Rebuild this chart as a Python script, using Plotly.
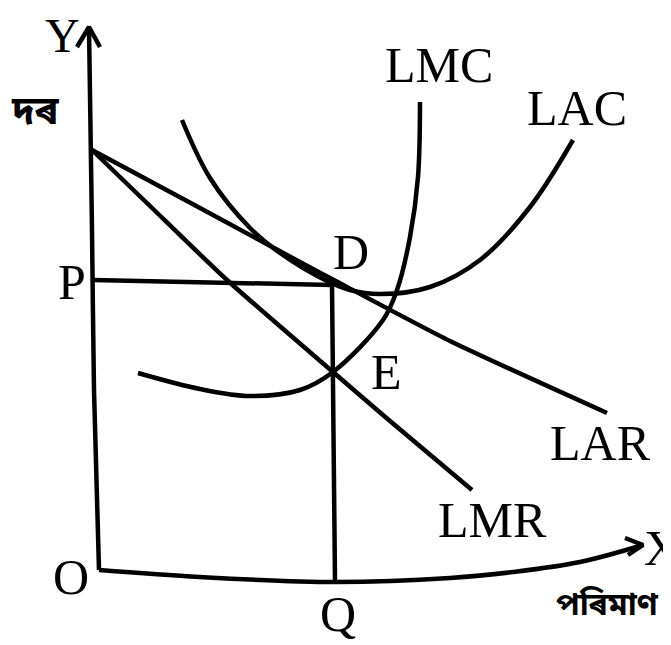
import plotly.graph_objects as go

# Curve points (x to the right, y downward, picture units)
y_axis_x = [99, 94, 92, 89]
y_axis_y = [570, 390, 230, 27]
y_arrow_x = [77, 89, 100]
y_arrow_y = [47, 27, 47]

x_axis_x = [99, 200, 335, 450, 513, 580, 643]
x_axis_y = [570, 577, 582, 578, 572, 562, 545]
x_arrow_x = [625, 643, 628]
x_arrow_y = [538, 545, 555]

lar_x = [92, 200, 300, 332, 450, 607]
lar_y = [150, 208, 262, 279, 341, 413]

lmr_x = [92, 150, 227, 333, 390, 472]
lmr_y = [150, 206, 280, 372, 421, 490]

lac_x = [182, 210, 250, 280, 323, 350, 380, 430, 480, 530, 573]
lac_y = [120, 178, 228, 253, 279, 290, 294, 287, 260, 207, 140]

lmc_x = [138, 200, 250, 300, 333, 383, 397, 410, 418, 420]
lmc_y = [373, 389, 396, 390, 372, 320, 290, 237, 177, 102]

p_line_x = [93, 332]
p_line_y = [280, 285]

q_line_x = [332, 335]
q_line_y = [285, 582]

labels = ["Y", "দৰ", "P", "O", "Q", "D", "E", "LMC", "LAC", "LAR", "LMR", "X", "পৰিমাণ"]
label_x = [62, 35, 72, 71, 338, 351, 386, 439, 577, 600, 492, 662, 607]
label_y = [35, 113, 282, 577, 614, 252, 372, 65, 108, 443, 520, 548, 607]

fig = go.Figure()

def add_line(xs, ys, shape="linear", smoothing=1.0):
    fig.add_trace(go.Scatter(
        x=xs, y=ys, mode="lines",
        line=dict(color="black", width=4.5, shape=shape, smoothing=smoothing),
        hoverinfo="skip", showlegend=False, cliponaxis=False))

add_line(y_axis_x, y_axis_y, "spline", 0.6)
add_line(y_arrow_x, y_arrow_y)
add_line(x_axis_x, x_axis_y, "spline", 1.0)
add_line(x_arrow_x, x_arrow_y)
add_line(lar_x, lar_y, "spline", 0.6)
add_line(lmr_x, lmr_y, "spline", 0.6)
add_line(lac_x, lac_y, "spline", 1.0)
add_line(lmc_x, lmc_y, "spline", 1.0)
add_line(p_line_x, p_line_y)
add_line(q_line_x, q_line_y)

serif = "Liberation Serif, Times New Roman, serif"
bengali = "Noto Sans Bengali, Noto Serif Bengali, Lohit Bengali, Noto Sans, sans-serif"
for t, x, y in zip(labels, label_x, label_y):
    is_bn = any('\u0980' <= ch <= '\u09FF' for ch in t)
    size = 48 if t == "Y" else 50
    if is_bn:
        size = 40 if len(t) < 3 else 32
    fig.add_annotation(
        x=x, y=y, text=("<b>" + t + "</b>") if is_bn else t, showarrow=False,
        xanchor="center", yanchor="middle",
        font=dict(family=bengali if is_bn else serif, size=size, color="black"))

# the page body adds an 8px margin, so the figure is 8px smaller and the
# axis ranges start at 8 so that picture units land on screen pixels
fig.update_layout(
    width=663, height=637,
    margin=dict(l=0, r=0, t=0, b=0),
    paper_bgcolor="white", plot_bgcolor="white",
    xaxis=dict(range=[8, 671], visible=False, fixedrange=True),
    yaxis=dict(range=[645, 8], visible=False, fixedrange=True),
)

fig.write_html("out.html")
